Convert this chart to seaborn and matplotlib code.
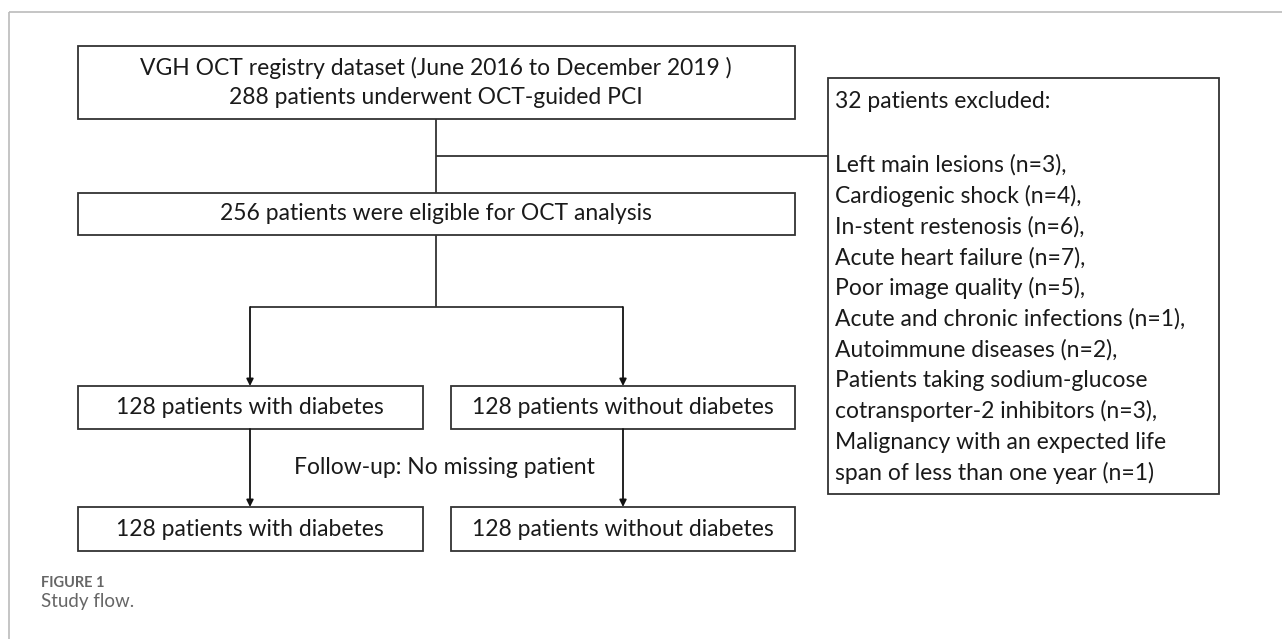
import matplotlib
matplotlib.use("Agg")
import matplotlib.pyplot as plt
import seaborn as sns
from matplotlib.patches import Rectangle

sns.set_theme(style="white")
plt.rcParams['font.family'] = ['Lato', 'DejaVu Sans']

# ---- content ----
top_lines = ["VGH OCT registry dataset (June 2016 to December 2019 )",
             "288 patients underwent OCT-guided PCI"]
eligible_text = "256 patients were eligible for OCT analysis"
group_labels = ["128 patients with diabetes", "128 patients without diabetes"]
followup_text = "Follow-up: No missing patient"
excluded_title = "32 patients excluded:"
excluded_items = ["Left main lesions (n=3),",
                  "Cardiogenic shock (n=4),",
                  "In-stent restenosis (n=6),",
                  "Acute heart failure (n=7),",
                  "Poor image quality (n=5),",
                  "Acute and chronic infections (n=1),",
                  "Autoimmune diseases (n=2),",
                  "Patients taking sodium-glucose",
                  "cotransporter-2 inhibitors (n=3),",
                  "Malignancy with an expected life",
                  "span of less than one year (n=1)"]
caption_label = "FIGURE 1"
caption_text = "Study flow."

W, H = 1282, 639
fig = plt.figure(figsize=(W / 100, H / 100), dpi=100)
ax = fig.add_axes([0, 0, 1, 1])
ax.set_xlim(0, W)
ax.set_ylim(H, 0)
ax.axis("off")

LC = "#333333"
LW = 1.3
FS = 16.5
TC = "#1a1a1a"

def box(x0, y0, x1, y1):
    ax.add_patch(Rectangle((x0, y0), x1 - x0, y1 - y0, fill=False,
                           edgecolor=LC, linewidth=LW))

def line(xs, ys, color=LC, lw=LW):
    ax.plot(xs, ys, color=color, linewidth=lw, solid_capstyle="butt")

def arrow(x, y0, y1):
    ax.annotate("", xy=(x, y1), xytext=(x, y0),
                arrowprops=dict(arrowstyle="-|>", color="#111111", lw=LW,
                                mutation_scale=10, shrinkA=0, shrinkB=0))

# page frame
line([9, W], [12, 12], color="#bbbbbb", lw=1.2)
line([9, 9], [12, H], color="#bbbbbb", lw=1.2)

# top box
box(78, 46, 795, 119)
ax.text(436, 68, top_lines[0], ha="center", va="center", fontsize=FS, color=TC)
ax.text(436, 97, top_lines[1], ha="center", va="center", fontsize=FS, color=TC)

# connector to exclusion
line([436, 436], [119, 193])
line([436, 828], [156, 156])

# eligible box
box(78, 193, 795, 235)
ax.text(436, 214, eligible_text, ha="center", va="center", fontsize=FS, color=TC)

# split
line([436, 436], [235, 307])
line([250, 623], [307, 307])
arrow(250, 307, 386)
arrow(623, 307, 386)

# first row boxes
box(78, 386, 423, 429)
box(451, 386, 795, 429)
ax.text(250, 407, group_labels[0], ha="center", va="center", fontsize=FS, color=TC)
ax.text(623, 407, group_labels[1], ha="center", va="center", fontsize=FS, color=TC)

# follow-up
arrow(250, 429, 507)
arrow(623, 429, 507)
ax.text(444, 468, followup_text, ha="center", va="center", fontsize=FS, color=TC)

# second row boxes
box(78, 507, 423, 551)
box(451, 507, 795, 551)
ax.text(250, 529, group_labels[0], ha="center", va="center", fontsize=FS, color=TC)
ax.text(623, 529, group_labels[1], ha="center", va="center", fontsize=FS, color=TC)

# exclusion box
box(828, 78, 1219, 494)
ax.text(835, 102, excluded_title, ha="left", va="center", fontsize=FS, color=TC)
y = 165
for item in excluded_items:
    ax.text(835, y, item, ha="left", va="center", fontsize=FS, color=TC)
    y += 30.8

# caption
ax.text(41, 583, caption_label, ha="left", va="center", fontsize=10.5,
        fontweight="bold", color="#666666")
ax.text(41, 601, caption_text, ha="left", va="center", fontsize=13.5,
        color="#666666")

fig.savefig("out.png", dpi=100)
